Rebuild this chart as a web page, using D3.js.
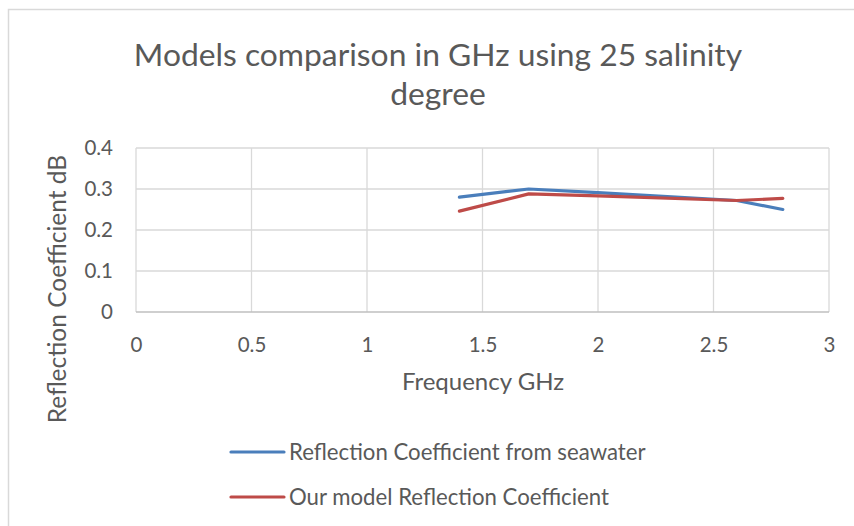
<!DOCTYPE html>
<html><head><meta charset="utf-8">
<script src="https://cdn.jsdelivr.net/npm/d3@7"></script>
<style>body{margin:0;background:#fff}svg{display:block}text{font-family:Lato,sans-serif;fill:#595959}</style>
</head><body><svg id="c" width="854" height="526"></svg>
<script>
const frequencies = [1.4, 1.7, 2.0, 2.6, 2.8];
const seawater = [0.280, 0.300, 0.291, 0.272, 0.250];
const ourModel = [0.246, 0.288, 0.283, 0.272, 0.277];
const xTicks = [0, 0.5, 1, 1.5, 2, 2.5, 3];
const yTicks = [0, 0.1, 0.2, 0.3, 0.4];
const seriesNames = ["Reflection Coefficient from seawater", "Our model Reflection Coefficient"];
const seriesColors = ["#4a7ebb", "#be4b48"];
const titleLines = ["Models comparison in GHz using 25 salinity", "degree"];

const svg = d3.select("#c");
svg.append("rect").attr("x",8.5).attr("y",9.5).attr("width",900).attr("height",600)
  .attr("fill","#fff").attr("stroke","#d9d9d9").attr("stroke-width",1.5);

const x = d3.scaleLinear().domain([0,3]).range([136,829]);
const y = d3.scaleLinear().domain([0,0.4]).range([312,148]);

const g = svg.append("g");
g.selectAll(".vg").data(xTicks).join("line")
  .attr("x1",d=>x(d)).attr("x2",d=>x(d)).attr("y1",y(0.4)).attr("y2",y(0))
  .attr("stroke","#d9d9d9").attr("stroke-width",1.3);
g.selectAll(".hg").data(yTicks).join("line")
  .attr("x1",x(0)).attr("x2",x(3)).attr("y1",d=>y(d)).attr("y2",d=>y(d))
  .attr("stroke",d=>d===0?"#bfbfbf":"#d9d9d9").attr("stroke-width",1.3);

const ax = svg.append("g").attr("transform",`translate(0,${y(0)})`)
  .call(d3.axisBottom(x).tickValues(xTicks).tickSize(0).tickPadding(25).tickFormat(d3.format("")));
ax.select(".domain").remove();
ax.selectAll("text").style("font-size","20.5px").attr("fill","#595959").attr("font-family","Lato");
const ay = svg.append("g").attr("transform",`translate(${x(0)},0)`)
  .call(d3.axisLeft(y).tickValues(yTicks).tickSize(0).tickPadding(23).tickFormat(d3.format("")));
ay.select(".domain").remove();
ay.selectAll("text").style("font-size","20.5px").attr("fill","#595959").attr("font-family","Lato");

const data = [seawater, ourModel];
const line = d3.line().x((d,i)=>x(frequencies[i])).y(d=>y(d));
svg.selectAll(".ln").data(data).join("path")
  .attr("d",d=>line(d)).attr("fill","none")
  .attr("stroke",(d,i)=>seriesColors[i]).attr("stroke-width",3.2)
  .attr("stroke-linejoin","round").attr("stroke-linecap","round");

svg.selectAll(".title").data(titleLines).join("text")
  .attr("x",438).attr("y",(d,i)=>66+i*39).attr("text-anchor","middle")
  .style("font-size","31.8px").text(d=>d);

svg.append("text").attr("x",483).attr("y",390).attr("text-anchor","middle")
  .style("font-size","24px").text("Frequency GHz");
svg.append("text").attr("transform","translate(66,289) rotate(-90)").attr("text-anchor","middle")
  .style("font-size","24.5px").text("Reflection Coefficient dB");

const lg = svg.selectAll(".lg").data(seriesNames).join("g")
  .attr("transform",(d,i)=>`translate(0,${452+i*45})`);
lg.append("line").attr("x1",231).attr("x2",284).attr("y1",0).attr("y2",0)
  .attr("stroke",(d,i)=>seriesColors[i]).attr("stroke-width",3.2).attr("stroke-linecap","round");
lg.append("text").attr("x",289).attr("y",7.5).style("font-size","22.2px").text(d=>d);
</script></body></html>
